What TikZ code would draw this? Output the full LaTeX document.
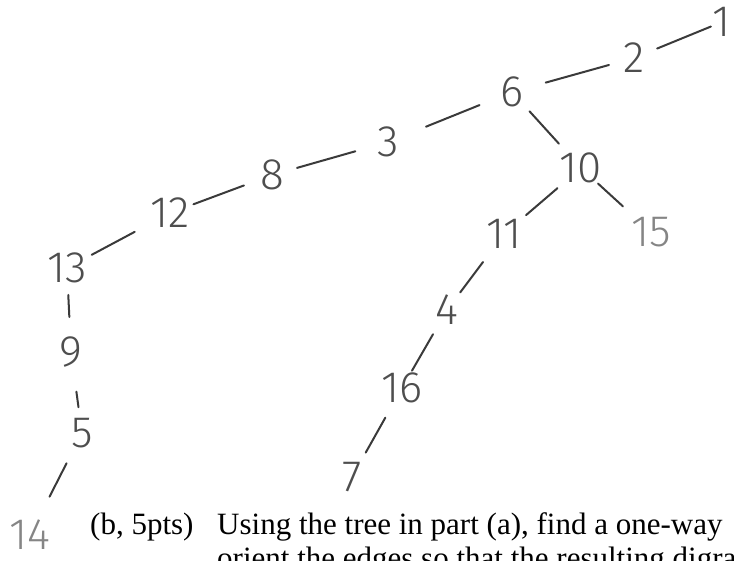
\documentclass[tikz,border=0pt]{standalone}
\usepackage{fontspec}
\setmainfont{Liberation Serif}
\newfontfamily\hand{Fira Sans Light}
\definecolor{pencil}{HTML}{3A3A3A}
\definecolor{ink}{HTML}{4E4E4E}
\definecolor{faint}{HTML}{858585}
\tikzset{
  vtx/.style={font=\hand\fontsize{44}{44}\selectfont, text=ink, inner sep=0pt},
  light/.style={text=faint},
  edge/.style={draw=pencil, line width=2pt, line cap=round},
  prose/.style={font=\fontsize{31}{34}\selectfont, text=black, inner sep=0pt, anchor=base west}
}
\begin{document}
\begin{tikzpicture}[x=1pt,y=-1pt]
\useasboundingbox (0,0) rectangle (734,560);

% vertices of the spanning tree
\node[vtx] (v1)  at (722,22)  {1};
\node[vtx] (v2)  at (634,58)  {2};
\node[vtx] (v6)  at (512,92)  {6};
\node[vtx] (v3)  at (388,142) {3};
\node[vtx] (v8)  at (272,175) {8};
\node[vtx] (v12) at (170,213) {12};
\node[vtx] (v13) at (67,268)  {13};
\node[vtx] (v9)  at (71,352)  {9};
\node[vtx] (v5)  at (82,433)  {5};
\node[vtx,light] (v14) at (30,535) {14};
\node[vtx] (v10) at (581,168) {10};
\node[vtx,light] (v15) at (651,232) {15};
\node[vtx] (v11) at (504,234) {11};
\node[vtx] (v4)  at (447,310) {4};
\node[vtx] (v16) at (402,388) {16};
\node[vtx] (v7)  at (352,477) {7};

% tree edges, drawn as short strokes between the labels
\draw[edge, shorten <=12pt, shorten >=25pt] (v1.center) -- (v2.center);
\draw[edge, shorten <=26pt, shorten >=35pt] (v2.center) -- (v6.center);
\draw[edge, shorten <=35pt, shorten >=41pt] (v6.center) -- (v3.center);
\draw[edge, shorten <=34pt, shorten >=26pt] (v3.center) -- (v8.center);
\draw[edge, shorten <=30pt, shorten >=25pt] (v8.center) -- (v12.center);
\draw[edge, shorten <=40pt, shorten >=28pt] (v12.center) -- (v13.center);
\draw[edge, shorten <=27pt, shorten >=35pt] (v13.center) -- (v9.center);
\draw[edge, shorten <=40pt, shorten >=26pt] (v9.center) -- (v5.center);
\draw[edge, shorten <=34pt, shorten >=43pt] (v5.center) -- (v14.center);
\draw[edge, shorten <=26pt, shorten >=33pt] (v6.center) -- (v10.center);
\draw[edge, shorten <=31pt, shorten >=29pt] (v10.center) -- (v11.center);
\draw[edge, shorten <=23pt, shorten >=38pt] (v10.center) -- (v15.center);
\draw[edge, shorten <=35pt, shorten >=22pt] (v11.center) -- (v4.center);
\draw[edge, shorten <=28pt, shorten >=20pt] (v4.center) -- (v16.center);
\draw[edge, shorten <=34pt, shorten >=28pt] (v16.center) -- (v7.center);

% printed question text below the sketch
\node[prose] (qlabel) at (90,534) {(b, 5pts)};
\node[prose] (qline1) at (217,534) {Using the tree in part (a), find a one-way};
\node[prose] (qline2) at (217,568) {orient the edges so that the resulting digra};
\end{tikzpicture}
\end{document}
